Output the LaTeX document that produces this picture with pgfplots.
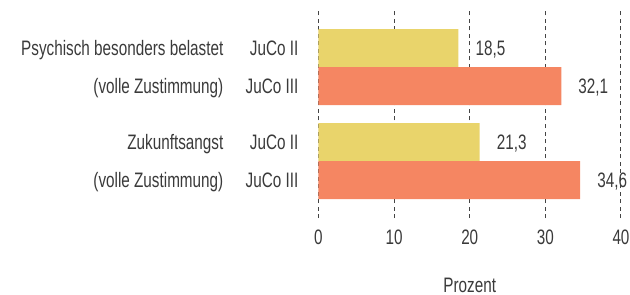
\documentclass[border=0pt]{standalone}
\usepackage{fontspec}
\setmainfont{Liberation Sans}[FakeStretch=0.73]
\usepackage{pgfplots}
\pgfplotsset{compat=1.18}
\definecolor{cyel}{HTML}{E9D46B}
\definecolor{cred}{HTML}{F58662}
\definecolor{ctxt}{HTML}{3A3A3A}
\definecolor{cgrid}{HTML}{444444}
\begin{document}
\begin{tikzpicture}[x=1bp,y=1bp]
\useasboundingbox (-318.5bp,-77bp) rectangle (311.5bp,218bp);
\begin{axis}[
  at={(0,0)}, anchor=south west,
  scale only axis, width=302.5bp, height=210bp,
  clip=false,
  xmin=0, xmax=40, ymin=-218, ymax=-8,
  xtick={0,10,20,30,40},
  ytick={-48,-86,-142,-180},
  yticklabels={JuCo II,JuCo III,JuCo II,JuCo III},
  xmajorgrids,
  major grid style={cgrid, line width=1bp, dash pattern=on 4bp off 3.5bp},
  axis line style={draw=none},
  major tick length=0pt,
  tick style={draw=none},
  font=\fontsize{21}{25}\selectfont,
  every tick label/.append style={ctxt, inner sep=0pt},
  /pgf/number format/assume math mode=true,
  xticklabel style={anchor=north},
  xticklabel shift=12bp,
  yticklabel style={anchor=base east, yshift=-7.5bp},
  yticklabel shift=20bp,
  xlabel={Prozent},
  xlabel style={ctxt, inner sep=0pt, anchor=base, at={(axis description cs:0.5,0)}, yshift=-74bp},
  xbar, bar width=38,
  nodes near coords={\pgfmathprintnumber[fixed,fixed zerofill,precision=1,use comma]{\pgfplotspointmeta}},
  every node near coord/.append style={ctxt, anchor=base west, inner sep=0pt, xshift=17bp, yshift=-7.5bp},
]
\addplot[fill=cyel, draw=none, bar shift=0pt] coordinates {(18.5,-48) (21.3,-142)};
\addplot[fill=cred, draw=none, bar shift=0pt] coordinates {(32.1,-86) (34.6,-180)};
\node[ctxt, anchor=base east, inner sep=0pt, xshift=-95bp, yshift=-7.5bp] at (axis cs:0,-48) {Psychisch besonders belastet};
\node[ctxt, anchor=base east, inner sep=0pt, xshift=-95bp, yshift=-7.5bp] at (axis cs:0,-86) {(volle Zustimmung)};
\node[ctxt, anchor=base east, inner sep=0pt, xshift=-95bp, yshift=-7.5bp] at (axis cs:0,-142) {Zukunftsangst};
\node[ctxt, anchor=base east, inner sep=0pt, xshift=-95bp, yshift=-7.5bp] at (axis cs:0,-180) {(volle Zustimmung)};
\end{axis}
\end{tikzpicture}
\end{document}
